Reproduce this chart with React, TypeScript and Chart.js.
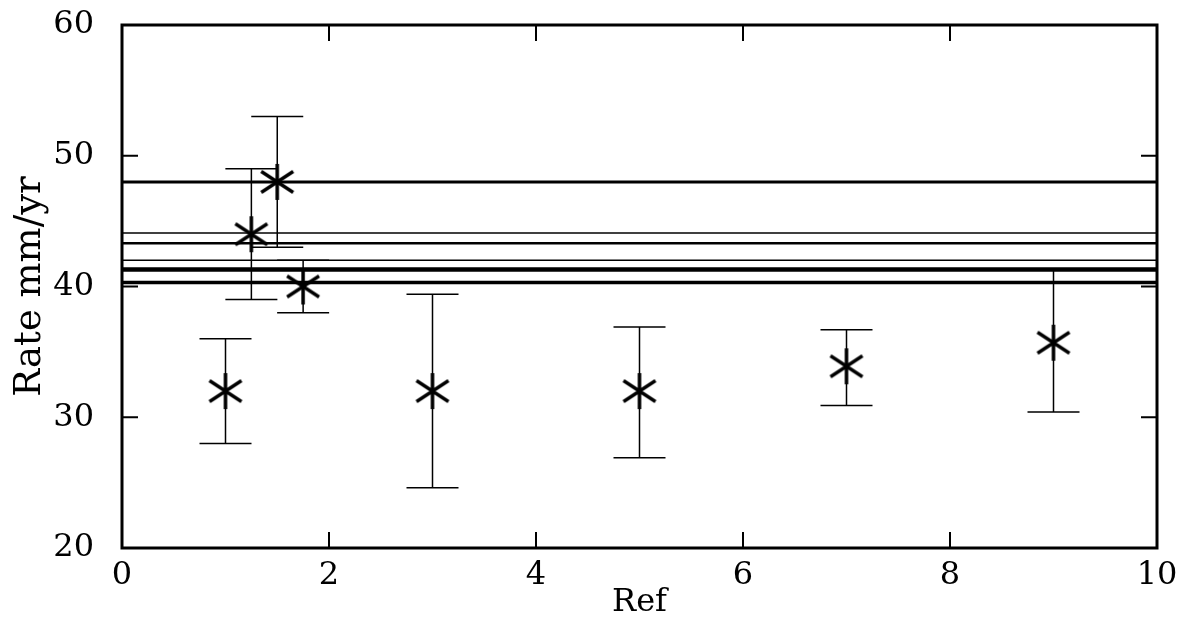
import React, { useEffect, useRef } from "react";
import { Chart, registerables } from "chart.js";

Chart.register(...registerables);

// Data
const refX = [1, 1.25, 1.5, 1.75, 3, 5, 7, 9];
const rates = [32, 44, 48, 40, 32, 32, 33.9, 35.7];
const lowerErr = [28, 39, 43, 38, 24.6, 26.9, 30.9, 30.4];
const upperErr = [36, 49, 53, 42, 39.4, 36.9, 36.7, 41.3];
const refLines = [48, 44.1, 43.3, 42.0, 41.3, 40.3];
const refLineWidths = [3, 1.5, 2.5, 1.5, 4.5, 3.5];
const xTicks = [0, 2, 4, 6, 8, 10];
const yTicks = [20, 30, 40, 50, 60];

const FONT = "'DejaVu Serif', serif";

function makeAsterisk(): HTMLCanvasElement {
  const c = document.createElement("canvas");
  c.width = 40;
  c.height = 40;
  const g = c.getContext("2d")!;
  g.strokeStyle = "#000";
  g.lineCap = "butt";
  g.lineWidth = 3.5;
  g.beginPath();
  g.moveTo(20, 2);
  g.lineTo(20, 38);
  g.stroke();
  g.lineWidth = 3.4;
  g.beginPath();
  g.moveTo(4, 9.5);
  g.lineTo(36, 30.5);
  g.moveTo(4, 30.5);
  g.lineTo(36, 9.5);
  g.stroke();
  return c;
}

const framePlugin = {
  id: "frameAndErrors",
  afterDatasetsDraw(chart: any) {
    const { ctx, chartArea, scales } = chart;
    const xs = scales.x;
    const ys = scales.y;
    ctx.save();
    // error bars
    ctx.strokeStyle = "#000";
    ctx.lineWidth = 1.5;
    const cap = 26;
    for (let i = 0; i < refX.length; i++) {
      const px = xs.getPixelForValue(refX[i]);
      const lo = ys.getPixelForValue(lowerErr[i]);
      const hi = ys.getPixelForValue(upperErr[i]);
      ctx.beginPath();
      ctx.moveTo(px, lo);
      ctx.lineTo(px, hi);
      ctx.moveTo(px - cap, lo);
      ctx.lineTo(px + cap, lo);
      ctx.moveTo(px - cap, hi);
      ctx.lineTo(px + cap, hi);
      ctx.stroke();
    }
    // frame
    ctx.lineWidth = 3;
    ctx.strokeRect(
      chartArea.left,
      chartArea.top,
      chartArea.right - chartArea.left,
      chartArea.bottom - chartArea.top
    );
    // inward ticks
    ctx.lineWidth = 2;
    const tl = 16;
    ctx.beginPath();
    for (const t of xTicks) {
      if (t === xTicks[0] || t === xTicks[xTicks.length - 1]) continue;
      const px = xs.getPixelForValue(t);
      ctx.moveTo(px, chartArea.bottom);
      ctx.lineTo(px, chartArea.bottom - tl);
      ctx.moveTo(px, chartArea.top);
      ctx.lineTo(px, chartArea.top + tl);
    }
    for (const t of yTicks) {
      if (t === yTicks[0] || t === yTicks[yTicks.length - 1]) continue;
      const py = ys.getPixelForValue(t);
      ctx.moveTo(chartArea.left, py);
      ctx.lineTo(chartArea.left + tl, py);
      ctx.moveTo(chartArea.right, py);
      ctx.lineTo(chartArea.right - tl, py);
    }
    ctx.stroke();
    ctx.restore();
  },
};

export default function App() {
  const ref = useRef<HTMLCanvasElement>(null);
  useEffect(() => {
    if (!ref.current) return;
    const star = makeAsterisk();
    const lineSets = refLines.map((v, i) => ({
      type: "line" as const,
      data: [
        { x: xTicks[0], y: v },
        { x: xTicks[xTicks.length - 1], y: v },
      ],
      borderColor: "#000",
      borderWidth: refLineWidths[i],
      pointRadius: 0,
      showLine: true,
      order: 2,
    }));
    const chart = new Chart(ref.current, {
      type: "scatter",
      data: {
        datasets: [
          ...lineSets,
          {
            type: "scatter",
            data: refX.map((x, i) => ({ x, y: rates[i] })),
            pointStyle: star,
            pointRadius: 20,
            borderColor: "#000",
            backgroundColor: "#000",
            order: 1,
          } as any,
        ],
      },
      options: {
        animation: false,
        responsive: false,
        layout: { padding: { left: 0, top: 25, right: 29, bottom: 0 } },
        plugins: {
          legend: { display: false },
          tooltip: { enabled: false },
        },
        scales: {
          x: {
            type: "linear",
            min: 0,
            max: 10,
            afterFit: (s: any) => {
              s.height = 71;
              s.paddingLeft = 0;
              s.paddingRight = 0;
            },
            afterBuildTicks: (s: any) => {
              s.ticks = xTicks.map((v) => ({ value: v }));
            },
            grid: { display: false, drawTicks: false },
            border: { display: false },
            ticks: {
              color: "#000",
              font: { family: FONT, size: 32 },
              padding: 8,
              maxRotation: 0,
            },
            title: {
              display: true,
              text: "Ref",
              color: "#000",
              font: { family: FONT, size: 32, lineHeight: 1 },
              padding: { top: -3, bottom: 0 },
            },
          },
          y: {
            type: "linear",
            min: 20,
            max: 60,
            afterFit: (s: any) => {
              s.width = 122;
              s.paddingTop = 0;
              s.paddingBottom = 0;
            },
            afterBuildTicks: (s: any) => {
              s.ticks = yTicks.map((v) => ({ value: v }));
            },
            grid: { display: false, drawTicks: false },
            border: { display: false },
            ticks: {
              color: "#000",
              font: { family: FONT, size: 32 },
              padding: 28,
            },
            title: {
              display: true,
              text: "Rate mm/yr",
              color: "#000",
              font: { family: FONT, size: 37, lineHeight: 1 },
              padding: { top: 12, bottom: 0 },
            },
          },
        },
      },
      plugins: [framePlugin],
    } as any);
    return () => chart.destroy();
  }, []);
  return (
    <canvas
      ref={ref}
      width={1186}
      height={619}
      style={{ position: "absolute", left: 0, top: 0, width: 1186, height: 619 }}
    />
  );
}
